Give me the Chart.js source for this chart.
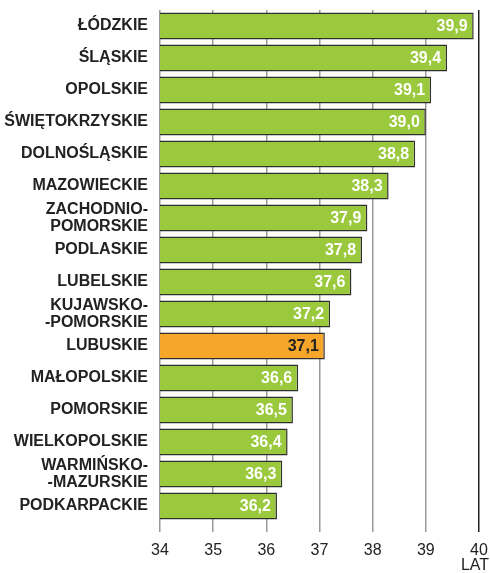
<!DOCTYPE html>
<html>
<head>
<meta charset="utf-8">
<script src="https://cdn.jsdelivr.net/npm/chart.js@4"></script>
<style>
html,body{margin:0;padding:0;background:#fff;}
#wrap{width:490px;height:573px;position:relative;}
</style>
</head>
<body>
<div id="wrap"><canvas id="c"></canvas></div>
<script>
const categories = [
  'ŁÓDZKIE', 'ŚLĄSKIE', 'OPOLSKIE', 'ŚWIĘTOKRZYSKIE', 'DOLNOŚLĄSKIE', 'MAZOWIECKIE',
  ['ZACHODNIO-', 'POMORSKIE'], 'PODLASKIE', 'LUBELSKIE', ['KUJAWSKO-', '-POMORSKIE'],
  'LUBUSKIE', 'MAŁOPOLSKIE', 'POMORSKIE', 'WIELKOPOLSKIE', ['WARMIŃSKO-', '-MAZURSKIE'], 'PODKARPACKIE'
];
const values = [39.9, 39.4, 39.1, 39.0, 38.8, 38.3, 37.9, 37.8, 37.6, 37.2, 37.1, 36.6, 36.5, 36.4, 36.3, 36.2];
const tickValues = [34, 35, 36, 37, 38, 39, 40];
const unitLabel = 'LAT';
const highlighted = 'LUBUSKIE';

const GREEN = '#9ac93d';
const ORANGE = '#f6a62a';
const isHi = categories.map(c => (Array.isArray(c) ? c.join('') : c) === highlighted);

const valueLabels = {
  id: 'valueLabels',
  afterDatasetsDraw(chart) {
    const ctx = chart.ctx;
    const meta = chart.getDatasetMeta(0);
    ctx.save();
    ctx.font = 'bold 16px "Liberation Sans", Arial, sans-serif';
    ctx.textAlign = 'right';
    ctx.textBaseline = 'middle';
    meta.data.forEach((bar, i) => {
      ctx.fillStyle = isHi[i] ? '#222' : '#fff';
      ctx.fillText(values[i].toFixed(1).replace('.', ','), bar.x - 6, bar.y + 1);
    });
    const xs = chart.scales.x;
    ctx.font = '16px "Liberation Sans", Arial, sans-serif';
    ctx.textAlign = 'center';
    ctx.fillStyle = '#222';
    ctx.fillText(unitLabel, xs.getPixelForValue(tickValues[tickValues.length - 1]) - 4, 566);
    ctx.restore();
  }
};

new Chart(document.getElementById('c'), {
  type: 'bar',
  data: {
    labels: categories,
    datasets: [{
      data: values,
      backgroundColor: isHi.map(h => h ? ORANGE : GREEN),
      borderColor: '#2f2f2f',
      borderWidth: 1.5,
      borderSkipped: false,
      barPercentage: 0.84,
      categoryPercentage: 1
    }]
  },
  options: {
    indexAxis: 'y',
    responsive: true,
    maintainAspectRatio: false,
    animation: false,
    layout: { padding: { top: 10, right: 11, bottom: 0, left: 0 } },
    plugins: { legend: { display: false }, tooltip: { enabled: false } },
    scales: {
      x: {
        min: tickValues[0],
        max: tickValues[tickValues.length - 1],
        afterBuildTicks: s => { s.ticks = tickValues.map(v => ({ value: v })); },
        afterFit: s => { s.height = 51; s.paddingLeft = 0; s.paddingRight = 0; },
        border: { display: false },
        grid: {
          color: ctx => ctx.tick && ctx.tick.value === 40 ? '#222' : '#9a9a9a',
          lineWidth: 1.5,
          tickLength: 10,
          drawTicks: true
        },
        ticks: {
          color: '#222',
          font: { family: '"Liberation Sans", Arial, sans-serif', size: 16 },
          padding: 9,
          autoSkip: false,
          maxRotation: 0
        }
      },
      y: {
        afterFit: s => { s.width = 160; s.paddingTop = 0; s.paddingBottom = 0; },
        border: { display: false },
        grid: { display: false, drawTicks: false },
        ticks: {
          color: '#222',
          font: { family: '"Liberation Sans", Arial, sans-serif', size: 16, weight: 'bold', lineHeight: 1.05 },
          padding: 12,
          autoSkip: false
        }
      }
    }
  },
  plugins: [valueLabels]
});
</script>
</body>
</html>
